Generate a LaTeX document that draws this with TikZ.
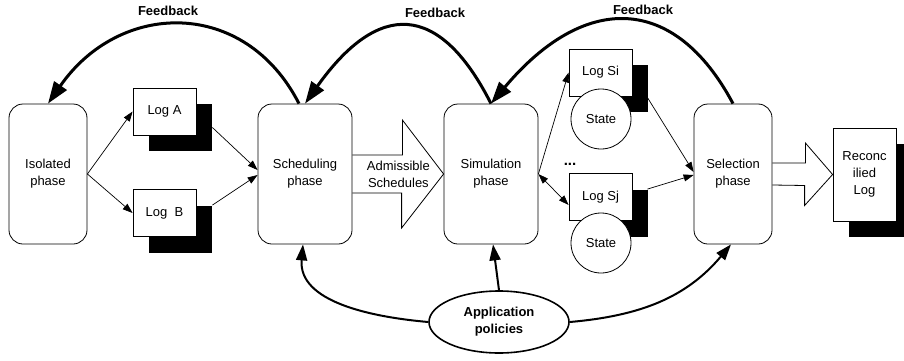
\documentclass[tikz,border=0pt]{standalone}
\usepackage{fontspec}
\setmainfont{Liberation Sans}
\usetikzlibrary{arrows.meta,shapes.geometric,shadows}

\begin{document}
\begin{tikzpicture}[x=1pt, y=1pt, font=\fontsize{13}{17}\selectfont,
  phase/.style = {draw, line width=0.8pt, rounded corners=14pt, minimum height=140pt, align=center},
  logbox/.style = {draw, fill=white, line width=0.8pt, minimum width=63pt, minimum height=47pt,
    drop shadow={shadow xshift=16pt, shadow yshift=-16pt, fill=black, opacity=1}},
  statecirc/.style = {draw, fill=white, line width=0.8pt, circle, minimum size=60pt},
  thinarrow/.style = {-{Triangle[length=10pt,width=7pt]}, line width=0.7pt},
  feedback/.style = {-{Triangle[length=22pt,width=15pt]}, line width=3pt},
  policy/.style = {-{Triangle[length=16pt,width=11pt]}, line width=2pt},
  blockarrow/.style = {line width=0.8pt, line join=miter}]
\useasboundingbox (0,0) rectangle (904,360);

\node [phase, minimum width=78pt] (iso) at (48,186) {Isolated\\phase};
\node [phase, minimum width=94pt] (sched) at (305,186) {Scheduling\\phase};
\node [phase, minimum width=94pt] (sim) at (491,186) {Simulation\\phase};
\node [phase, minimum width=78pt] (sel) at (733,186) {Selection\\phase};

\node [logbox] (logA) at (164.5,248.5) {Log A};
\node [logbox] (logB) at (164.5,147) {Log\ \ B};
\node [logbox] (logSi) at (600.5,287.5) {Log Si};
\node [statecirc] (stSi) at (601,241) {State};
\node [logbox] (logSj) at (600.5,163) {Log Sj};
\node [statecirc] (stSj) at (601,117) {State};
\node [font=\fontsize{15}{17}\selectfont\bfseries] (dots) at (570,196) {...};
\node [logbox, minimum height=93pt, align=center] (rec) at (864.5,185.5) {Reconc\\ilied\\Log};

\node [draw, ellipse, line width=1.6pt, minimum width=140pt, minimum height=62pt, align=center,
  font=\fontsize{13}{17}\selectfont\bfseries] (app) at (499,38) {Application\\policies};

\draw [blockarrow] ([yshift=19pt]sched.east) -- ++(50,0) -- ++(0,35) -- (sim.west)
  -- ++(-42,-54) -- ++(0,35) -- ([yshift=-19pt]sched.east);
\node [align=center] (adm) at ([xshift=46pt]sched.east) {Admissible\\Schedules};
\draw [blockarrow] ([yshift=11pt]sel.east) -- ++(33,0) -- ++(0,20) -- (rec.west)
  -- ++(-28,-31) -- ++(0,20) -- ([yshift=-11pt]sel.east);

\draw [thinarrow] (iso.east) -- (logA.west);
\draw [thinarrow] (iso.east) -- (logB.west);
\draw [thinarrow] ([shift={(16pt,-16pt)}]logA.east) -- ([yshift=4pt]sched.west);
\draw [thinarrow] ([shift={(16pt,-16pt)}]logB.north east) -- ([yshift=-1pt]sched.west);
\draw [thinarrow] (sim.east) -- (logSi.west);
\draw [thinarrow, {Triangle[length=10pt,width=7pt]}-{Triangle[length=10pt,width=7pt]}] (sim.east) -- ([yshift=-8pt]logSj.west);
\draw [thinarrow] ([shift={(15pt,-25pt)}]logSi.east) -- ([yshift=2pt]sel.west);
\draw [thinarrow] ([shift={(15pt,-16pt)}]logSj.north east) -- ([yshift=-1pt]sel.west);

\draw [feedback] ([xshift=-6pt]sched.north) .. controls (245,362) and (120,360) .. (iso.north);
\draw [feedback] (sim.north) .. controls (439,359) and (378,359) .. (sched.north);
\draw [feedback] (sel.north) .. controls (674,367) and (584,367) .. (sim.north);
\node [font=\fontsize{13}{17}\selectfont\bfseries] (fb1) at (168,349) {Feedback};
\node [font=\fontsize{13}{17}\selectfont\bfseries] (fb2) at (435,347) {Feedback};
\node [font=\fontsize{13}{17}\selectfont\bfseries] (fb3) at (643,350) {Feedback};

\draw [policy] (app.west) to[out=175,in=-95] ([xshift=-2pt]sched.south);
\draw [policy] (app.north) -- ([xshift=2pt]sim.south);
\draw [policy] (app.east) to[out=5,in=-130] ([xshift=-2pt]sel.south);
\end{tikzpicture}
\end{document}
